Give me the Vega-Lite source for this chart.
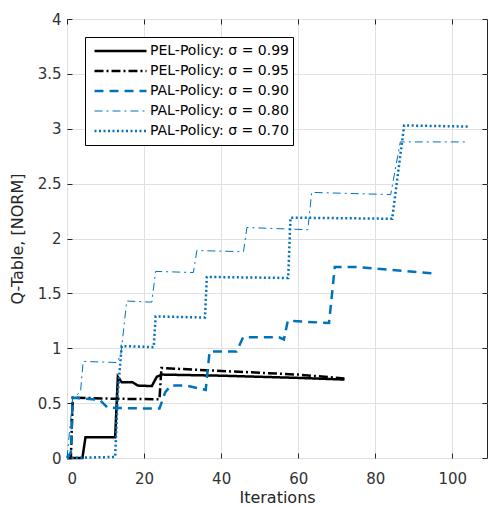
{
 "$schema": "https://vega.github.io/schema/vega-lite/v6.json",
 "width": 420,
 "height": 439,
 "autosize": {"type": "none"},
 "padding": {"left": 67, "top": 19, "right": 3, "bottom": 49},
 "background": "white",
 "config": {
  "view": {"stroke": "#262626", "strokeWidth": 1},
  "font": "DejaVu Sans",
  "axis": {"labelFont": "DejaVu Sans", "labelFontSize": 15, "labelColor": "#333333", "titleFont": "DejaVu Sans", "titleFontSize": 16, "titleFontWeight": "normal", "titleColor": "#262626", "gridColor": "#e0e0e0", "gridOpacity": 1, "tickColor": "#262626", "domain": false, "tickSize": -5},
  "legend": {"orient": "none", "legendX": 18, "legendY": 18, "padding": 4, "strokeColor": "#000000", "fillColor": "#ffffff", "symbolType": "stroke", "symbolSize": 2704, "clipHeight": 20, "rowPadding": 0, "symbolOffset": 4, "labelOffset": 2, "labelFontSize": 14, "labelFont": "DejaVu Sans", "labelColor": "#000000", "labelLimit": 400, "title": null}
 },
 "data": {"values": [
  {"series": "PEL-Policy: σ = 0.99", "x": 0, "y": 0},
  {"series": "PEL-Policy: σ = 0.99", "x": 4, "y": 0},
  {"series": "PEL-Policy: σ = 0.99", "x": 4.8, "y": 0.19},
  {"series": "PEL-Policy: σ = 0.99", "x": 12.5, "y": 0.19},
  {"series": "PEL-Policy: σ = 0.99", "x": 13.2, "y": 0.74},
  {"series": "PEL-Policy: σ = 0.99", "x": 14.2, "y": 0.69},
  {"series": "PEL-Policy: σ = 0.99", "x": 17, "y": 0.69},
  {"series": "PEL-Policy: σ = 0.99", "x": 18.4, "y": 0.66},
  {"series": "PEL-Policy: σ = 0.99", "x": 22, "y": 0.655},
  {"series": "PEL-Policy: σ = 0.99", "x": 23.3, "y": 0.74},
  {"series": "PEL-Policy: σ = 0.99", "x": 24.6, "y": 0.76},
  {"series": "PEL-Policy: σ = 0.99", "x": 40, "y": 0.75},
  {"series": "PEL-Policy: σ = 0.99", "x": 60, "y": 0.73},
  {"series": "PEL-Policy: σ = 0.99", "x": 72, "y": 0.715},
  {"series": "PEL-Policy: σ = 0.95", "x": 0, "y": 0},
  {"series": "PEL-Policy: σ = 0.95", "x": 1, "y": 0},
  {"series": "PEL-Policy: σ = 0.95", "x": 1.5, "y": 0.55},
  {"series": "PEL-Policy: σ = 0.95", "x": 12, "y": 0.54},
  {"series": "PEL-Policy: σ = 0.95", "x": 24, "y": 0.535},
  {"series": "PEL-Policy: σ = 0.95", "x": 24.5, "y": 0.82},
  {"series": "PEL-Policy: σ = 0.95", "x": 36, "y": 0.8},
  {"series": "PEL-Policy: σ = 0.95", "x": 60, "y": 0.76},
  {"series": "PEL-Policy: σ = 0.95", "x": 72, "y": 0.725},
  {"series": "PAL-Policy: σ = 0.90", "x": 0, "y": 0},
  {"series": "PAL-Policy: σ = 0.90", "x": 1, "y": 0.05},
  {"series": "PAL-Policy: σ = 0.90", "x": 1.5, "y": 0.55},
  {"series": "PAL-Policy: σ = 0.90", "x": 8.5, "y": 0.53},
  {"series": "PAL-Policy: σ = 0.90", "x": 10.5, "y": 0.46},
  {"series": "PAL-Policy: σ = 0.90", "x": 14, "y": 0.455},
  {"series": "PAL-Policy: σ = 0.90", "x": 24, "y": 0.45},
  {"series": "PAL-Policy: σ = 0.90", "x": 25.5, "y": 0.6},
  {"series": "PAL-Policy: σ = 0.90", "x": 27, "y": 0.66},
  {"series": "PAL-Policy: σ = 0.90", "x": 31, "y": 0.66},
  {"series": "PAL-Policy: σ = 0.90", "x": 36, "y": 0.62},
  {"series": "PAL-Policy: σ = 0.90", "x": 37, "y": 0.97},
  {"series": "PAL-Policy: σ = 0.90", "x": 44, "y": 0.97},
  {"series": "PAL-Policy: σ = 0.90", "x": 45.7, "y": 1.1},
  {"series": "PAL-Policy: σ = 0.90", "x": 55, "y": 1.1},
  {"series": "PAL-Policy: σ = 0.90", "x": 56.3, "y": 1.08},
  {"series": "PAL-Policy: σ = 0.90", "x": 57.3, "y": 1.25},
  {"series": "PAL-Policy: σ = 0.90", "x": 68, "y": 1.23},
  {"series": "PAL-Policy: σ = 0.90", "x": 69.5, "y": 1.74},
  {"series": "PAL-Policy: σ = 0.90", "x": 75, "y": 1.74},
  {"series": "PAL-Policy: σ = 0.90", "x": 96, "y": 1.68},
  {"series": "PAL-Policy: σ = 0.80", "x": 0, "y": 0},
  {"series": "PAL-Policy: σ = 0.80", "x": 1.5, "y": 0.55},
  {"series": "PAL-Policy: σ = 0.80", "x": 3.5, "y": 0.6},
  {"series": "PAL-Policy: σ = 0.80", "x": 4.2, "y": 0.88},
  {"series": "PAL-Policy: σ = 0.80", "x": 13, "y": 0.87},
  {"series": "PAL-Policy: σ = 0.80", "x": 14, "y": 0.95},
  {"series": "PAL-Policy: σ = 0.80", "x": 15.5, "y": 1.43},
  {"series": "PAL-Policy: σ = 0.80", "x": 22, "y": 1.42},
  {"series": "PAL-Policy: σ = 0.80", "x": 23, "y": 1.7},
  {"series": "PAL-Policy: σ = 0.80", "x": 32.8, "y": 1.69},
  {"series": "PAL-Policy: σ = 0.80", "x": 33.7, "y": 1.89},
  {"series": "PAL-Policy: σ = 0.80", "x": 45.8, "y": 1.88},
  {"series": "PAL-Policy: σ = 0.80", "x": 46.7, "y": 2.1},
  {"series": "PAL-Policy: σ = 0.80", "x": 62.5, "y": 2.08},
  {"series": "PAL-Policy: σ = 0.80", "x": 63.5, "y": 2.42},
  {"series": "PAL-Policy: σ = 0.80", "x": 84, "y": 2.4},
  {"series": "PAL-Policy: σ = 0.80", "x": 86.5, "y": 2.88},
  {"series": "PAL-Policy: σ = 0.80", "x": 104, "y": 2.88},
  {"series": "PAL-Policy: σ = 0.70", "x": 0, "y": 0},
  {"series": "PAL-Policy: σ = 0.70", "x": 12.5, "y": 0.01},
  {"series": "PAL-Policy: σ = 0.70", "x": 13.2, "y": 0.6},
  {"series": "PAL-Policy: σ = 0.70", "x": 14.2, "y": 1.02},
  {"series": "PAL-Policy: σ = 0.70", "x": 22.5, "y": 1.01},
  {"series": "PAL-Policy: σ = 0.70", "x": 23, "y": 1.29},
  {"series": "PAL-Policy: σ = 0.70", "x": 35.8, "y": 1.28},
  {"series": "PAL-Policy: σ = 0.70", "x": 36.3, "y": 1.65},
  {"series": "PAL-Policy: σ = 0.70", "x": 57.4, "y": 1.64},
  {"series": "PAL-Policy: σ = 0.70", "x": 58, "y": 2.19},
  {"series": "PAL-Policy: σ = 0.70", "x": 84.4, "y": 2.18},
  {"series": "PAL-Policy: σ = 0.70", "x": 87.5, "y": 3.03},
  {"series": "PAL-Policy: σ = 0.70", "x": 104, "y": 3.02}
 ]},
 "layer": [
  {
   "mark": {"type": "line", "strokeCap": "butt", "strokeJoin": "miter"},
   "encoding": {
    "x": {"field": "x", "type": "quantitative", "scale": {"domain": [0, 109], "nice": false, "zero": false}, "axis": {"title": "Iterations", "values": [0, 20, 40, 60, 80, 100], "labelPadding": 18, "titlePadding": 3}},
    "y": {"field": "y", "type": "quantitative", "scale": {"domain": [0, 4], "nice": false}, "axis": {"title": "Q-Table, [NORM]", "values": [0, 0.5, 1, 1.5, 2, 2.5, 3, 3.5, 4], "format": "~g", "labelPadding": 11, "titlePadding": 12}},
    "color": {"field": "series", "type": "nominal", "scale": {"domain": ["PEL-Policy: σ = 0.99", "PEL-Policy: σ = 0.95", "PAL-Policy: σ = 0.90", "PAL-Policy: σ = 0.80", "PAL-Policy: σ = 0.70"], "range": ["#000000", "#000000", "#0072BD", "#0072BD", "#0072BD"]}},
    "strokeDash": {"field": "series", "type": "nominal", "scale": {"domain": ["PEL-Policy: σ = 0.99", "PEL-Policy: σ = 0.95", "PAL-Policy: σ = 0.90", "PAL-Policy: σ = 0.80", "PAL-Policy: σ = 0.70"], "range": [[1, 0], [9, 3, 2, 3], [9, 6], [8, 4, 2, 4], [2, 2.5]]}},
    "strokeWidth": {"field": "series", "type": "nominal", "scale": {"type": "ordinal", "domain": ["PEL-Policy: σ = 0.99", "PEL-Policy: σ = 0.95", "PAL-Policy: σ = 0.90", "PAL-Policy: σ = 0.80", "PAL-Policy: σ = 0.70"], "range": [2.5, 2.5, 2.5, 1, 2.5]}}
   }
  },
  {
   "mark": {"type": "point", "opacity": 0},
   "encoding": {
    "x": {"field": "x", "type": "quantitative", "axis": {"orient": "top", "title": null, "labels": false, "grid": false, "values": [0, 20, 40, 60, 80, 100]}},
    "y": {"field": "y", "type": "quantitative", "axis": {"orient": "right", "title": null, "labels": false, "grid": false, "values": [0, 0.5, 1, 1.5, 2, 2.5, 3, 3.5, 4]}}
   }
  }
 ],
 "resolve": {"axis": {"x": "independent", "y": "independent"}}
}
